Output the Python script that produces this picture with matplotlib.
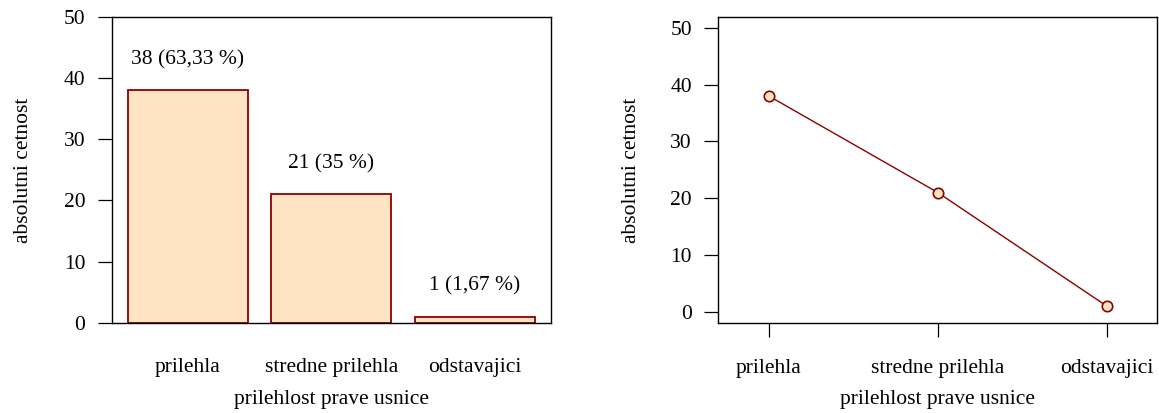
import numpy as np
import matplotlib
matplotlib.use('Agg')
import matplotlib.pyplot as plt

# data
categories = ['prilehla', 'stredne prilehla', 'odstavajici']
counts = [38, 21, 1]
bar_labels = ['38 (63,33 %)', '21 (35 %)', '1 (1,67 %)']
y_ticks = [0, 10, 20, 30, 40, 50]

plt.rcParams['font.family'] = ['Liberation Serif', 'DejaVu Serif']
plt.rcParams['font.size'] = 15.5

red = '#8B0000'
fill = '#FFE4C4'

fig = plt.figure(figsize=(11.59, 4.13), dpi=100)
ax1 = fig.add_axes([0.0964, 0.2179, 0.3788, 0.7417])
ax2 = fig.add_axes([0.6198, 0.2179, 0.3787, 0.7417])

x = np.arange(len(categories))

# left: bar chart
ax1.bar(x, counts, width=0.835, color=fill, edgecolor=red, linewidth=1.3, zorder=2)
for xi, v, lab in zip(x, counts, bar_labels):
    ax1.text(xi, v + 5, lab, ha='center', va='center')
ax1.set_xlim(-0.53, 2.53)
ax1.set_ylim(0, 50)
ax1.set_yticks(y_ticks)
ax1.set_xticks(x)
ax1.set_xticklabels(categories)
ax1.tick_params(axis='x', length=0, pad=25)
ax1.tick_params(axis='y', length=10, width=0.9, pad=9)
ax1.set_ylabel('absolutni cetnost')
ax1.set_xlabel('prilehlost prave usnice')
ax1.yaxis.set_label_coords(-0.180, 0.5)
ax1.xaxis.set_label_coords(0.5, -0.22)

# right: line chart
ax2.plot(x, counts, '-', color=red, lw=1.0, marker='o', markersize=7.5,
         markerfacecolor=fill, markeredgecolor=red, markeredgewidth=1.2, zorder=3,
         clip_on=False)
ax2.set_xlim(-0.3, 2.3)
ax2.set_ylim(-2, 52)
ax2.set_yticks(y_ticks)
ax2.set_xticks(x)
ax2.set_xticklabels(categories)
ax2.tick_params(axis='x', length=10, width=0.9, pad=16)
ax2.tick_params(axis='y', length=10, width=0.9, pad=9)
ax2.set_ylabel('absolutni cetnost')
ax2.set_xlabel('prilehlost prave usnice')
ax2.yaxis.set_label_coords(-0.177, 0.5)
ax2.xaxis.set_label_coords(0.5, -0.22)

for ax in (ax1, ax2):
    for spine in ax.spines.values():
        spine.set_linewidth(1.0)

fig.savefig('out.png', dpi=100)
